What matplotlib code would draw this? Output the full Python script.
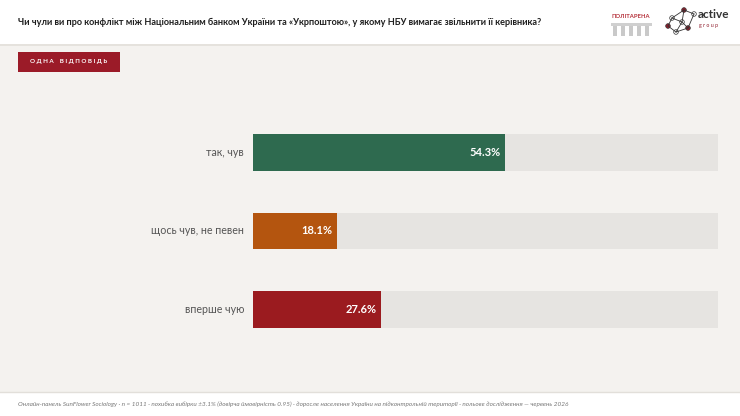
import matplotlib
matplotlib.use("Agg")
import matplotlib.pyplot as plt
from matplotlib.patches import Rectangle, Circle
from matplotlib.lines import Line2D

categories = ["так, чув", "щось чув, не певен", "вперше чую"]
values = [54.3, 18.1, 27.6]
bar_colors = ["#2e6a4f", "#b4550f", "#9b1b1f"]
title = "Чи чули ви про конфлікт між Національним банком України та «Укрпоштою», у якому НБУ вимагає звільнити її керівника?"
badge = "ОДНА ВІДПОВІДЬ"
footer = ("Онлайн-панель SunFlower Sociology · n = 1011 · похибка вибірки ±3.1% (довірча ймовірність 0.95) · "
          "доросле населення України на підконтрольній території · польове дослідження — червень 2026")

W, H = 740, 416
plt.rcParams['font.family'] = ['Lato', 'DejaVu Sans']
fig = plt.figure(figsize=(W / 100, H / 100), dpi=100)
fig.patch.set_facecolor("#f4f2ef")

deco = fig.add_axes([0, 0, 1, 1])
deco.set_xlim(0, W)
deco.set_ylim(H, 0)
deco.axis("off")
deco.add_patch(Rectangle((0, 0), W, 44, facecolor="white", edgecolor="none"))
deco.add_line(Line2D([0, W], [44.5, 44.5], color="#e2dfda", lw=1.2))
deco.add_patch(Rectangle((0, 392), W, 24, facecolor="white", edgecolor="none"))
deco.add_line(Line2D([0, W], [392, 392], color="#e2dfda", lw=1.0))
deco.text(18, 22, title, fontsize=6.55, fontweight="bold", color="#1e1e1e", va="center", ha="left")
deco.add_patch(Rectangle((18, 52), 102, 20, facecolor="#9b1b28", edgecolor="none"))
deco.text(69, 62, " ".join(badge).replace("   ", "    "), fontsize=4.5, fontweight="bold",
          color="white", va="center", ha="center")
deco.text(18, 404, footer, fontsize=4.6, style="italic", color="#777777", va="center", ha="left")

# logos (decorative approximations)
deco.text(631, 16, "ПОЛІТАРЕНА", fontsize=4.2, fontweight="bold", color="#b5303a", ha="center", va="center")
for i in range(5):
    deco.add_patch(Rectangle((613 + i * 8, 26), 4, 10, facecolor="#c9c9c9", edgecolor="none"))
deco.add_patch(Rectangle((611, 23), 41, 3, facecolor="#d0d0d0", edgecolor="none"))
nodes = [(672, 18), (684, 10), (694, 14), (688, 28), (676, 32), (668, 26), (682, 22)]
edges = [(0, 1), (1, 2), (2, 3), (3, 4), (4, 5), (5, 0), (1, 6), (6, 3), (0, 6), (6, 4)]
for a, b in edges:
    deco.add_line(Line2D([nodes[a][0], nodes[b][0]], [nodes[a][1], nodes[b][1]], color="#333333", lw=0.6))
for i, (x, y) in enumerate(nodes):
    col = "#8f1d2c" if i in (1, 3, 5) else "white"
    deco.add_patch(Circle((x, y), 2.3, facecolor=col, edgecolor="#333333", lw=0.5))
deco.text(698, 14, "active", fontsize=8.5, fontweight="bold", color="#333333", ha="left", va="center")
deco.text(699, 25, "g r o u p", fontsize=3.8, color="#8f1d2c", ha="left", va="center")

# bar axes
left, right = 253, 718
top, bottom = 113.5, 348.5
ax = fig.add_axes([left / W, 1 - bottom / H, (right - left) / W, (bottom - top) / H])
ax.set_facecolor("none")
ypos = list(range(len(categories)))
bh = 0.47
ax.barh(ypos, [100] * len(values), height=bh, color="#e6e4e1", edgecolor="none")
ax.barh(ypos, values, height=bh, color=bar_colors, edgecolor="none")
ax.set_xlim(0, 100)
ax.set_ylim(2.5, -0.5)
for y, v, c in zip(ypos, values, categories):
    ax.text(v - 1.0, y, f"{v:.1f}%", color="white", fontsize=8, fontweight="bold", ha="right", va="center")
    ax.text(-1.9, y, c, color="#555555", fontsize=7.7, ha="right", va="center")
ax.axis("off")

fig.savefig("out.png", dpi=100, facecolor=fig.get_facecolor())
